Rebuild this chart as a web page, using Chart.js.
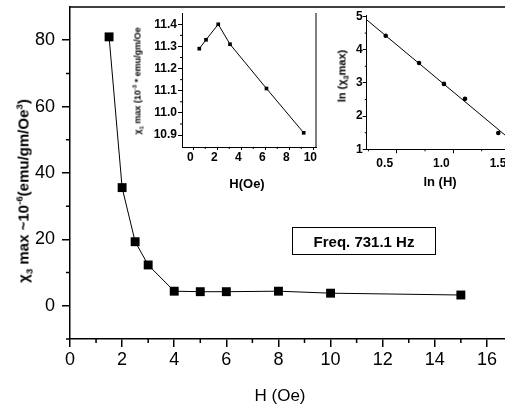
<!DOCTYPE html>
<html>
<head>
<meta charset="utf-8">
<script src="https://cdn.jsdelivr.net/npm/chart.js@4.4.0/dist/chart.umd.min.js"></script>
<style>
  html, body { margin: 0; padding: 0; width: 505px; height: 409px; overflow: hidden; background: #fff; }
  canvas { position: absolute; top: 0; }
  .t { position: absolute; white-space: nowrap; font-family: "Liberation Sans", Arial, sans-serif; color: #000;
       transform: translate(-50%, -50%); line-height: 1; }
  .r { transform: translate(-50%, -50%) rotate(-90deg); }
  sub, sup { font-size: 65%; line-height: 0; }
  .box { position: absolute; left: 292px; top: 227px; width: 142px; height: 26px; border: 1px solid #000;
         font: bold 15px "Liberation Sans", Arial, sans-serif; display: flex; align-items: center; justify-content: center; }
</style>
</head>
<body>
<canvas id="main" width="560" height="409" style="left:0"></canvas>
<canvas id="ins1" width="200" height="200" style="left:130px"></canvas>
<canvas id="ins2" width="220" height="200" style="left:320px"></canvas>

<div class="t r" style="left:23px;top:191px;font-weight:bold;font-size:15px">χ<sub>3</sub> max ~10<sup>-6</sup>(emu/gm/Oe<sup>3</sup>)</div>
<div class="t" style="left:280px;top:395px;font-size:17px">H (Oe)</div>
<div class="t r" style="left:138px;top:81px;font-weight:bold;font-size:9px">χ<sub>1</sub> max (10<sup>-3</sup> * emu/gm/Oe</div>
<div class="t" style="left:247px;top:183px;font-weight:bold;font-size:13px">H(Oe)</div>
<div class="t r" style="left:342px;top:76px;font-weight:bold;font-size:11px">ln (χ<sub>3</sub>max)</div>
<div class="t" style="left:440px;top:181px;font-weight:bold;font-size:13px">ln (H)</div>
<div class="box">Freq. 731.1 Hz</div>

<script>
// main panel: chi3 max vs H
const hMain = [1.5, 2, 2.5, 3, 4, 5, 6, 8, 10, 15];
const chiMain = [81, 35.6, 19.3, 12.3, 4.4, 4.25, 4.25, 4.4, 3.8, 3.25];
const xTicksMain = [0, 2, 4, 6, 8, 10, 12, 14, 16];
const xMinorMain = [1, 3, 5, 7, 9, 11, 13, 15, 17];
const yTicksMain = [0, 20, 40, 60, 80];
const yMinorMain = [-10, 10, 30, 50, 70];

// inset 1: chi1 max vs H
const hIns1 = [0.5, 1.06, 2.08, 3.06, 6.1, 9.2];
const chiIns1 = [11.29, 11.33, 11.40, 11.31, 11.11, 10.91];
const xTicksIns1 = [0, 2, 4, 6, 8, 10];
const xMinorIns1 = [1, 3, 5, 7, 9];
const yTicksIns1 = [10.9, 11.0, 11.1, 11.2, 11.3, 11.4];
const yMinorIns1 = [10.95, 11.05, 11.15, 11.25, 11.35];

// inset 2: ln(chi3 max) vs ln(H), with fitted line
const lnH = [0.403, 0.697, 0.917, 1.103, 1.397];
const lnChi = [4.42, 3.60, 2.97, 2.52, 1.49];
const fitX = [0.235, 1.456];
const fitY = [4.90, 1.43];
const xTicksIns2 = [0.5, 1.0, 1.5];
const xMinorIns2 = [0.25, 0.75, 1.25];
const yTicksIns2 = [1, 2, 3, 4, 5];
const yMinorIns2 = [1.5, 2.5, 3.5, 4.5];

const FONT = '"Liberation Sans", Arial, sans-serif';
const pts = (xs, ys) => xs.map((x, i) => ({ x: x, y: ys[i] }));

// minor ticks and extra frame sides
const decor = {
  id: 'decor',
  afterDraw(chart, args, o) {
    const { ctx, chartArea: a, scales: { x, y } } = chart;
    ctx.save();
    ctx.strokeStyle = '#000';
    ctx.lineWidth = o.lw;
    ctx.beginPath();
    (o.minorX || []).forEach(v => {
      const px = x.getPixelForValue(v);
      ctx.moveTo(px, a.bottom); ctx.lineTo(px, a.bottom + o.len);
    });
    (o.minorY || []).forEach(v => {
      const py = y.getPixelForValue(v);
      ctx.moveTo(a.left, py); ctx.lineTo(a.left - o.len, py);
    });
    if (o.top) { ctx.moveTo(a.left, a.top); ctx.lineTo(a.right + 40, a.top); }
    if (o.right) { ctx.moveTo(a.right, a.top); ctx.lineTo(a.right, a.bottom); }
    ctx.stroke();
    ctx.restore();
  }
};

function axis(c) {
  return {
    type: 'linear',
    min: c.min, max: c.max,
    afterBuildTicks: s => { s.ticks = c.ticks.map(v => ({ value: v })); },
    afterFit: s => {
      if (c.width) s.width = c.width;
      if (c.height) s.height = c.height;
      s.paddingLeft = s.paddingRight = s.paddingTop = s.paddingBottom = 0;
    },
    ticks: {
      color: '#000', padding: c.pad, labelOffset: c.off || 0,
      font: { family: FONT, size: c.fs, weight: c.bold ? 'bold' : 'normal', lineHeight: 1 },
      callback: c.fmt || (v => v)
    },
    grid: { drawOnChartArea: false, tickLength: c.tl, color: '#000', lineWidth: c.lw },
    border: { display: true, color: '#000', width: c.lw }
  };
}

function mk(id, datasets, pad, sx, sy, deco) {
  return new Chart(document.getElementById(id), {
    type: 'line',
    data: { datasets: datasets },
    options: {
      responsive: false, animation: false, events: [],
      layout: { padding: pad },
      scales: { x: axis(sx), y: axis(sy) },
      plugins: { legend: { display: false }, tooltip: { enabled: false }, decor: deco }
    },
    plugins: [decor]
  });
}

mk('main', [{
    data: pts(hMain, chiMain),
    borderColor: '#000', borderWidth: 1,
    pointStyle: 'rect', pointRadius: 6.3,
    pointBackgroundColor: '#000', pointBorderColor: '#000', pointBorderWidth: 0
  }],
  { top: 7, right: 34, left: 0, bottom: 0 },
  { min: 0, max: 17.5, ticks: xTicksMain, height: 70, pad: 4, fs: 18, tl: 8, lw: 1.5 },
  { min: -10, max: 90, ticks: yTicksMain, width: 70, pad: 7, fs: 18, tl: 8, lw: 1.5 },
  { minorX: xMinorMain, minorY: yMinorMain, len: 4, lw: 1.5, top: true });

mk('ins1', [{
    data: pts(hIns1, chiIns1),
    borderColor: '#000', borderWidth: 1,
    pointStyle: 'rect', pointRadius: 2.6,
    pointBackgroundColor: '#000', pointBorderColor: '#000', pointBorderWidth: 0
  }],
  { top: 13, right: 14, left: 0, bottom: 0 },
  { min: -0.94, max: 10.225, ticks: xTicksIns1, height: 53, pad: 2, fs: 12, bold: true, tl: 3, lw: 1, off: -3 },
  { min: 10.846, max: 11.451, ticks: yTicksIns1, width: 52, pad: 1, fs: 12, bold: true, tl: 4, lw: 1,
    fmt: v => v.toFixed(1) },
  { minorX: xMinorIns1, minorY: yMinorIns1, len: 2, lw: 1, right: true });

mk('ins2', [{
    data: pts(lnH, lnChi),
    showLine: false,
    pointStyle: 'circle', pointRadius: 2.3,
    pointBackgroundColor: '#000', pointBorderColor: '#000', pointBorderWidth: 0
  }, {
    data: pts(fitX, fitY),
    borderColor: '#000', borderWidth: 1, pointRadius: 0
  }],
  { top: 15, right: 18.7, left: 0, bottom: 0 },
  { min: 0.235, max: 1.6, ticks: xTicksIns2, height: 50.7, pad: 4, fs: 12, bold: true, tl: 4, lw: 1, off: -12,
    fmt: v => v.toFixed(1) },
  { min: 1, max: 5.045, ticks: yTicksIns2, width: 46.7, pad: 0, fs: 12, bold: true, tl: 4, lw: 1 },
  { minorX: xMinorIns2, minorY: yMinorIns2, len: 2, lw: 1 });
</script>
</body>
</html>
